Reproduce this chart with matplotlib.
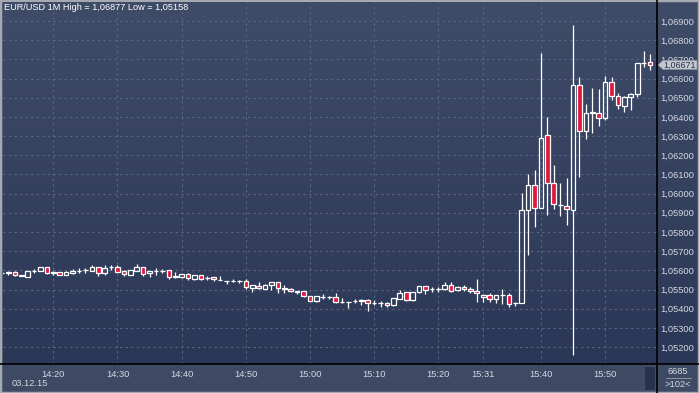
import numpy as np
import matplotlib
matplotlib.use("Agg")
import matplotlib.pyplot as plt
from matplotlib.patches import Rectangle, Polygon
from matplotlib.lines import Line2D
from matplotlib.colors import LinearSegmentedColormap
from matplotlib.transforms import blended_transform_factory

plt.rcParams['font.family'] = ['Liberation Sans', 'DejaVu Sans']

# EUR/USD 1 minute candles, 03.12.15
opens = [1.05584, 1.05588, 1.05591, 1.05570, 1.05567, 1.05598, 1.05598, 1.05617, 1.05588, 1.05591,
         1.05577, 1.05584, 1.05598, 1.05602, 1.05598, 1.05617, 1.05588, 1.05616, 1.05617, 1.05597,
         1.05577, 1.05598, 1.05617, 1.05584, 1.05598, 1.05598, 1.05600, 1.05567, 1.05567, 1.05579,
         1.05557, 1.05574, 1.05560, 1.05563, 1.05551, 1.05546, 1.05546, 1.05543, 1.05544, 1.05510,
         1.05518, 1.05504, 1.05522, 1.05537, 1.05506, 1.05503, 1.05490, 1.05490, 1.05466, 1.05442,
         1.05463, 1.05463, 1.05461, 1.05433, 1.05436, 1.05440, 1.05442, 1.05445, 1.05431, 1.05431,
         1.05429, 1.05417, 1.05452, 1.05485, 1.05443, 1.05485, 1.05516, 1.05501, 1.05501, 1.05501,
         1.05524, 1.05496, 1.05511, 1.05503, 1.05490, 1.05459, 1.05471, 1.05449, 1.05473, 1.05471,
         1.05428, 1.05431, 1.05913, 1.06047, 1.05927, 1.06308, 1.06057, 1.05939, 1.05936, 1.05917,
         1.06566, 1.06327, 1.06425, 1.06422, 1.06392, 1.06583, 1.06510, 1.06458, 1.06505, 1.06519,
         1.06679, 1.06686]
highs = [1.05586, 1.05597, 1.05598, 1.05577, 1.05598, 1.05609, 1.05619, 1.05619, 1.05598, 1.05592,
         1.05598, 1.05609, 1.05610, 1.05614, 1.05628, 1.05618, 1.05628, 1.05628, 1.05628, 1.05602,
         1.05601, 1.05631, 1.05618, 1.05598, 1.05612, 1.05607, 1.05601, 1.05591, 1.05582, 1.05584,
         1.05575, 1.05575, 1.05570, 1.05564, 1.05572, 1.05547, 1.05556, 1.05551, 1.05553, 1.05526,
         1.05537, 1.05527, 1.05541, 1.05538, 1.05525, 1.05508, 1.05491, 1.05491, 1.05468, 1.05467,
         1.05476, 1.05464, 1.05483, 1.05454, 1.05437, 1.05449, 1.05452, 1.05449, 1.05445, 1.05438,
         1.05436, 1.05456, 1.05497, 1.05486, 1.05486, 1.05519, 1.05518, 1.05513, 1.05515, 1.05537,
         1.05537, 1.05518, 1.05525, 1.05511, 1.05555, 1.05476, 1.05483, 1.05472, 1.05503, 1.05482,
         1.05436, 1.06004, 1.06104, 1.06122, 1.06735, 1.06398, 1.06148, 1.06057, 1.06083, 1.06877,
         1.06606, 1.06467, 1.06553, 1.06548, 1.06613, 1.06606, 1.06526, 1.06510, 1.06523, 1.06683,
         1.06743, 1.06728]
lows = [1.05582, 1.05577, 1.05570, 1.05569, 1.05566, 1.05584, 1.05597, 1.05581, 1.05577, 1.05576,
        1.05576, 1.05583, 1.05584, 1.05588, 1.05597, 1.05570, 1.05576, 1.05602, 1.05592, 1.05572,
        1.05576, 1.05597, 1.05572, 1.05563, 1.05574, 1.05588, 1.05553, 1.05562, 1.05560, 1.05551,
        1.05551, 1.05550, 1.05550, 1.05546, 1.05550, 1.05527, 1.05541, 1.05536, 1.05503, 1.05489,
        1.05503, 1.05502, 1.05497, 1.05483, 1.05483, 1.05485, 1.05478, 1.05463, 1.05440, 1.05436,
        1.05449, 1.05449, 1.05432, 1.05428, 1.05405, 1.05431, 1.05421, 1.05389, 1.05419, 1.05407,
        1.05407, 1.05416, 1.05449, 1.05442, 1.05442, 1.05484, 1.05478, 1.05489, 1.05487, 1.05497,
        1.05489, 1.05490, 1.05490, 1.05483, 1.05436, 1.05436, 1.05436, 1.05431, 1.05424, 1.05410,
        1.05416, 1.05428, 1.05678, 1.05826, 1.05926, 1.05890, 1.05918, 1.05883, 1.05838, 1.05158,
        1.06088, 1.06287, 1.06315, 1.06352, 1.06385, 1.06488, 1.06439, 1.06427, 1.06436, 1.06505,
        1.06662, 1.06644]
closes = [1.05584, 1.05589, 1.05574, 1.05576, 1.05597, 1.05599, 1.05616, 1.05588, 1.05589, 1.05577,
          1.05591, 1.05598, 1.05599, 1.05603, 1.05617, 1.05588, 1.05614, 1.05617, 1.05593, 1.05579,
          1.05600, 1.05616, 1.05581, 1.05597, 1.05599, 1.05599, 1.05567, 1.05568, 1.05581, 1.05558,
          1.05574, 1.05557, 1.05561, 1.05553, 1.05552, 1.05547, 1.05547, 1.05544, 1.05511, 1.05525,
          1.05506, 1.05525, 1.05539, 1.05506, 1.05505, 1.05490, 1.05489, 1.05464, 1.05442, 1.05466,
          1.05462, 1.05461, 1.05433, 1.05434, 1.05435, 1.05441, 1.05443, 1.05428, 1.05432, 1.05432,
          1.05419, 1.05454, 1.05483, 1.05443, 1.05485, 1.05518, 1.05497, 1.05502, 1.05502, 1.05522,
          1.05494, 1.05513, 1.05501, 1.05490, 1.05482, 1.05471, 1.05450, 1.05471, 1.05474, 1.05424,
          1.05429, 1.05914, 1.06047, 1.05927, 1.06292, 1.06057, 1.05944, 1.05940, 1.05918, 1.06566,
          1.06327, 1.06422, 1.06420, 1.06392, 1.06583, 1.06510, 1.06462, 1.06505, 1.06519, 1.06679,
          1.06680, 1.06671]

time_ticks = [8, 18, 28, 38, 48, 58, 68, 75, 84, 94]
time_labels = ['14:20', '14:30', '14:40', '14:50', '15:00', '15:10', '15:20', '15:31', '15:40', '15:50']
price_ticks = [1.052, 1.053, 1.054, 1.055, 1.056, 1.057, 1.058, 1.059, 1.060,
               1.061, 1.062, 1.063, 1.064, 1.065, 1.066, 1.067, 1.068, 1.069]

o = np.array(opens); h = np.array(highs); l = np.array(lows); c = np.array(closes)
x = np.arange(len(o))

W, H = 699, 393
panel = '#3e4a64'
fig = plt.figure(figsize=(W / 100, H / 100), dpi=100, facecolor=panel)

grad = LinearSegmentedColormap.from_list('bg', ['#2b3756', '#3f4c68'])
g = np.linspace(0, 1, 256).reshape(-1, 1)

# right price panel background (drawn underneath the main axes' labels)
ax_r = fig.add_axes([656 / W, 29 / H, 43 / W, 362 / H], zorder=-1)
ax_r.imshow(g, cmap=grad, origin='lower', aspect='auto', extent=[0, 1, 0, 1])
ax_r.axis('off')

ax = fig.add_axes([3 / W, 29 / H, 653 / W, 362 / H], zorder=1)
ylo, yhi = 1.051117, 1.069991
ax.set_xlim(0.156, 101.93)
ax.set_ylim(ylo, yhi)
ax.imshow(g, cmap=grad, origin='lower', aspect='auto', extent=[0.156, 101.93, ylo, yhi], zorder=0)

# grid
for p in price_ticks:
    ax.axhline(p, color='#5a6682', lw=0.8, ls=(0, (2, 3)), zorder=1)
for t in time_ticks:
    ax.axvline(t, color='#5a6682', lw=0.8, ls=(0, (2, 3)), zorder=1)

# candles
body_lo = np.minimum(o, c)
body_hi = np.maximum(o, c)
ax.vlines(x, l, body_lo, color='white', lw=0.9, zorder=3)
ax.vlines(x, body_hi, h, color='white', lw=0.9, zorder=3)
up = c >= o
ax.bar(x[up], (body_hi - body_lo)[up], bottom=body_lo[up], width=0.72,
       facecolor='none', edgecolor='white', lw=0.9, zorder=4)
ax.bar(x[~up], (body_hi - body_lo)[~up], bottom=body_lo[~up], width=0.72,
       facecolor='#e3163c', edgecolor='white', lw=0.9, zorder=4)

for s in ax.spines.values():
    s.set_visible(False)

ax.set_xticks(time_ticks)
ax.set_xticklabels(time_labels)
ax.set_yticks(price_ticks)
ax.set_yticklabels([f"{p:.5f}".replace('.', ',') for p in price_ticks])
ax.yaxis.tick_right()
ax.tick_params(axis='y', length=0, pad=3, labelsize=6.7, labelcolor='#d4d8e0')
ax.tick_params(axis='x', length=0, pad=4, labelsize=6.7, labelcolor='#d4d8e0')

# separators and frame
fig.add_artist(Line2D([0, 1], [29 / H, 29 / H], color='black', lw=1.2))
fig.add_artist(Line2D([656.5 / W, 656.5 / W], [0, 1], color='black', lw=1.2))
fig.add_artist(Rectangle((644 / W, 3 / H), 11 / W, 24 / H, facecolor='#28324d',
                         edgecolor='#4a5670', lw=0.5))
fig.add_artist(Rectangle((0, 0), 1, 1, fill=False, edgecolor='#a4a9b2', lw=2.5))

# texts
fig.text(4 / W, 1 - 8 / H, 'EUR/USD 1M High = 1,06877 Low = 1,05158', color='white',
         fontsize=6.6, ha='left', va='center')
fig.text(12 / W, 1 - 383 / H, '03.12.15', color='#d4d8e0', fontsize=6.7, ha='left', va='center')
fig.text(678 / W, 1 - 371 / H, '6685', color='#d4d8e0', fontsize=6.7, ha='center', va='center')
fig.add_artist(Line2D([666 / W, 691 / W], [1 - 378 / H, 1 - 378 / H], color='#9aa0aa', lw=0.6))
fig.text(678 / W, 1 - 384.5 / H, '>102<', color='#d4d8e0', fontsize=6.7, ha='center', va='center')

# current price marker
last = closes[-1]
tr = blended_transform_factory(fig.transFigure, ax.transData)
dy = 4.5 * (yhi - ylo) / 362
pts = [(658 / W, last), (663 / W, last + dy), (697 / W, last + dy),
       (697 / W, last - dy), (663 / W, last - dy)]
ax.add_patch(Polygon(pts, closed=True, transform=tr, facecolor='#c3c8d0',
                     edgecolor='#8a909c', lw=0.5, clip_on=False, zorder=6))
ax.text(680 / W, last, f"{last:.5f}".replace('.', ','), transform=tr, color='#283048',
        fontsize=6.4, ha='center', va='center', zorder=7, clip_on=False)

fig.savefig('out.png', dpi=100, facecolor=panel)
